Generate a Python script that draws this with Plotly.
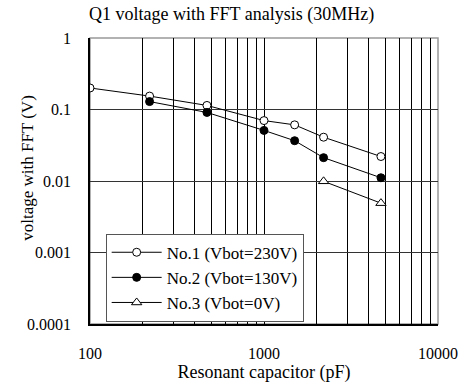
import plotly.graph_objects as go

# Resonant capacitor values (pF) and measured FFT voltage (V) at 30 MHz
cap_no1 = [100, 220, 470, 1000, 1500, 2200, 4700]
volt_no1 = [0.20, 0.154, 0.114, 0.070, 0.061, 0.041, 0.022]

cap_no2 = [220, 470, 1000, 1500, 2200, 4700]
volt_no2 = [0.129, 0.091, 0.051, 0.0366, 0.0212, 0.0111]

cap_no3 = [2200, 4700]
volt_no3 = [0.0099, 0.0049]

series_names = ["No.1 (Vbot=230V)", "No.2 (Vbot=130V)", "No.3 (Vbot=0V)"]

y_tick_vals = [1, 0.1, 0.01, 0.001, 0.0001]
y_tick_text = ["1", "0.1", "0.01", "0.001", "0.0001"]

# every 1..9 step of each decade gets a vertical grid line; only decades are labelled
x_tick_vals = [m * 10 ** e for e in (2, 3) for m in range(1, 10)] + [10000]
x_tick_text = [str(v) if v in (100, 1000, 10000) else "" for v in x_tick_vals]

FONT = "Liberation Serif"

fig = go.Figure()
fig.add_trace(go.Scatter(
    x=cap_no1, y=volt_no1, name=series_names[0], mode="lines+markers", legendgroup="a",
    line=dict(color="black", width=1),
    marker=dict(symbol="circle", size=8, color="white", line=dict(color="black", width=1)),
))
fig.add_trace(go.Scatter(
    x=cap_no2, y=volt_no2, name=series_names[1], mode="lines+markers", legendgroup="b",
    line=dict(color="black", width=1),
    marker=dict(symbol="circle", size=8, color="black", line=dict(color="black", width=1)),
))
fig.add_trace(go.Scatter(
    x=cap_no3, y=volt_no3, name=series_names[2], mode="lines+markers", legendgroup="c",
    line=dict(color="black", width=1),
    marker=dict(symbol="triangle-up", size=9, color="white", line=dict(color="black", width=1)),
))

fig.update_layout(
    width=470, height=387,
    margin=dict(l=90, r=28, t=38, b=57),
    paper_bgcolor="white", plot_bgcolor="white",
    font=dict(family=FONT, size=16, color="black"),
    showlegend=True,
    legend=dict(
        x=0.045, y=0.008, xanchor="left", yanchor="bottom",
        bgcolor="white", bordercolor="#555", borderwidth=1,
        font=dict(family=FONT, size=17), itemwidth=50,
        tracegroupgap=0,
    ),
    shapes=[dict(type="rect", xref="paper", yref="paper", x0=0, x1=1, y0=0, y1=1,
                 line=dict(color="#999", width=1.5), layer="below")],
    annotations=[
        dict(
            text="Q1 voltage with FFT analysis (30MHz)", xref="paper", yref="paper",
            x=-0.01, y=1.04, xanchor="left", yanchor="bottom", showarrow=False,
            font=dict(family=FONT, size=18),
        ),
        dict(
            text="voltage with FFT (V)", xref="paper", yref="paper",
            x=-0.182, y=0.545, xanchor="center", yanchor="middle", showarrow=False,
            textangle=-90, font=dict(family=FONT, size=17),
        ),
    ],
)

fig.update_xaxes(
    type="log", range=[2, 4],
    tickvals=x_tick_vals, ticktext=x_tick_text, tickangle=0,
    showgrid=True, gridcolor="black", gridwidth=1,
    showline=True, linecolor="black", linewidth=1.5,
    ticks="", ticklabelstandoff=14, zeroline=False,
    title=dict(text="Resonant capacitor (pF)", standoff=0, font=dict(family=FONT, size=18)),
    tickfont=dict(family=FONT, size=16),
)
fig.update_yaxes(
    type="log", range=[-4, 0],
    tickvals=y_tick_vals, ticktext=y_tick_text,
    showgrid=True, gridcolor="#333", gridwidth=1,
    showline=True, linecolor="black", linewidth=1.5,
    ticks="", ticklabelstandoff=14, zeroline=False,
    tickfont=dict(family=FONT, size=16),
)

fig.write_html("out.html")
